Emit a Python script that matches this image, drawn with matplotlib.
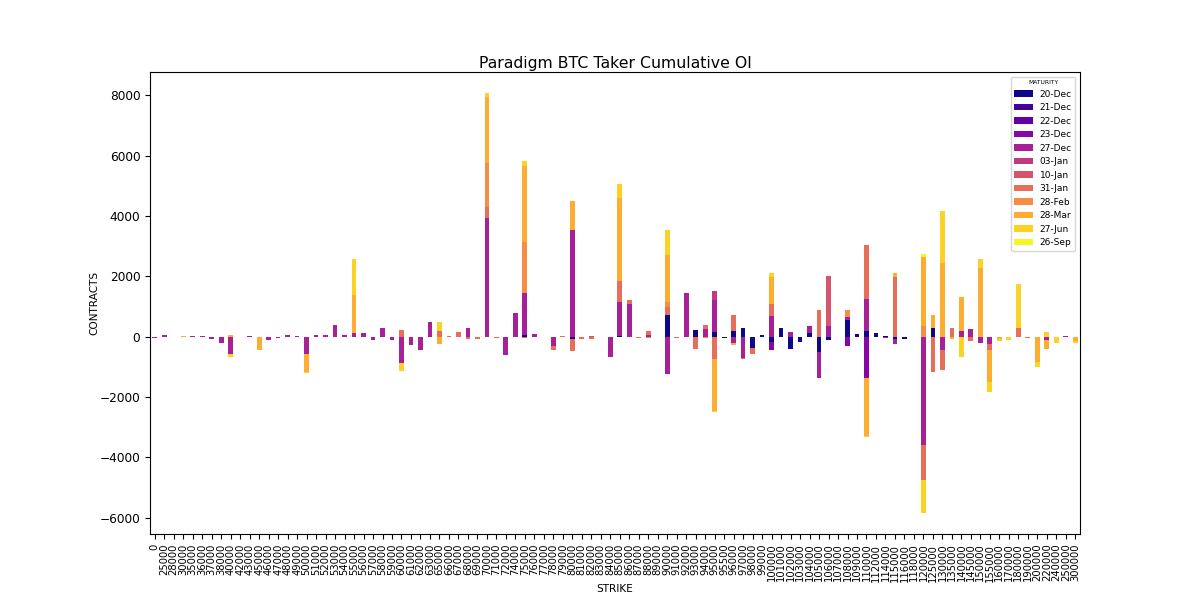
import numpy as np
import pandas as pd
import matplotlib
matplotlib.use("Agg")
import matplotlib.pyplot as plt

strikes = [0, 25000, 28000, 30000, 35000, 36000, 37000, 38000, 40000, 42000, 43000,
           45000, 46000, 47000, 48000, 49000, 50000, 51000, 52000, 53000, 54000,
           55000, 56000, 57000, 58000, 59000, 60000, 61000, 62000, 63000, 65000,
           66000, 67000, 68000, 69000, 70000, 71000, 72000, 74000, 75000, 76000,
           77000, 78000, 79000, 80000, 81000, 82000, 83000, 84000, 85000, 86000,
           87000, 88000, 89000, 90000, 91000, 92000, 93000, 94000, 95000, 95500,
           96000, 97000, 98000, 99000, 100000, 101000, 102000, 103000, 104000,
           105000, 106000, 107000, 108000, 109000, 110000, 112000, 114000, 115000,
           116000, 118000, 120000, 125000, 130000, 135000, 140000, 145000, 150000,
           155000, 160000, 170000, 180000, 190000, 200000, 220000, 240000, 250000,
           300000]

maturities = ["20-Dec", "21-Dec", "22-Dec", "23-Dec", "27-Dec", "03-Jan", "10-Jan",
              "31-Jan", "28-Feb", "28-Mar", "27-Jun", "26-Sep"]

# contracts per strike, one dict per maturity (strike -> value)
oi_20dec = {75000: 50, 80000: -90, 85000: 30, 90000: 730, 93000: 220, 95000: 140,
            95500: -40, 96000: 190, 97000: 270, 98000: -380, 99000: 60, 100000: -170,
            101000: 270, 102000: -420, 103000: -180, 104000: 120, 105000: -500,
            106000: -100, 108000: 560, 109000: 80, 110000: 200, 112000: 120,
            114000: 30, 115000: -80, 116000: -80, 125000: 300}
oi_21dec = {}
oi_22dec = {}
oi_23dec = {100000: -280, 110000: -1380, 108000: -320}
oi_27dec = {0: -60, 25000: 50, 28000: -20, 35000: 10, 36000: 10, 37000: -80,
            38000: -200, 40000: -580, 42000: -15, 43000: 10, 46000: -120, 47000: -30,
            48000: 40, 49000: 10, 50000: -560, 51000: 40, 52000: 70, 53000: 400,
            54000: 70, 55000: 120, 56000: 130, 57000: -110, 58000: 270, 59000: -100,
            60000: -890, 61000: -290, 62000: -440, 63000: 470, 68000: 290,
            70000: 3920, 72000: -600, 74000: 770, 75000: 1410, 76000: 80,
            78000: -320, 80000: 3550, 84000: -670, 85000: 1120, 86000: 1090,
            88000: 60, 90000: -1250, 92000: 1450, 94000: 250, 95000: 1060,
            96000: -200, 97000: -720, 100000: 670, 102000: 160, 104000: 230,
            105000: -870, 106000: 350, 108000: 100, 110000: 1050, 114000: -40,
            115000: -150, 120000: -3600, 130000: -450, 140000: 200, 145000: 240,
            150000: -200, 155000: -250, 220000: -120, 250000: 30}
oi_03jan = {95000: 300}
oi_10jan = {82000: 30, 106000: 1650}
oi_31jan = {60000: 230, 65000: 180, 66000: 30, 67000: 150, 68000: -90, 69000: -80,
            70000: 390, 71000: -30, 75000: -30, 77000: -20, 78000: -130, 79000: 15,
            80000: -400, 81000: -80, 82000: -90, 85000: 710, 86000: 130, 87000: -60,
            88000: 140, 89000: -20, 90000: 250, 91000: -60, 93000: -420, 94000: 130,
            95000: -745, 96000: 520, 97000: -30, 98000: -200, 100000: 400,
            105000: 880, 110000: 1800, 115000: 1980, 120000: -1150, 125000: -1180,
            130000: -650, 135000: 300, 145000: -160, 155000: -200, 180000: 300,
            190000: -60}
oi_28feb = {70000: 1450, 75000: 1665, 88000: -60, 90000: 160, 94000: -40,
            108000: 210, 120000: 350}
oi_28mar = {30000: 30, 40000: 60, 45000: -450, 50000: -600, 55000: 1260, 65000: -230,
            70000: 2190, 75000: 2520, 80000: 950, 85000: 2730, 90000: 1555,
            95000: -1710, 96000: -80, 100000: 910, 110000: -1900, 115000: 120,
            120000: 2300, 125000: 430, 130000: 2450, 135000: -80, 140000: 1120,
            150000: 2280, 155000: -1050, 160000: -80, 200000: -850, 220000: -300,
            300000: -150}
oi_27jun = {40000: -100, 50000: -60, 55000: 1180, 60000: -245, 65000: 300,
            70000: 130, 75000: 170, 85000: 470, 90000: 830, 95000: -60, 100000: 140,
            110000: -60, 120000: -1100, 130000: 1730, 140000: -690, 150000: 290,
            155000: -350, 160000: -60, 170000: -120, 180000: 1430, 200000: -150,
            220000: 150, 240000: -200, 300000: -70}
oi_26sep = {120000: 100}

series = [oi_20dec, oi_21dec, oi_22dec, oi_23dec, oi_27dec, oi_03jan, oi_10jan,
          oi_31jan, oi_28feb, oi_28mar, oi_27jun, oi_26sep]

df = pd.DataFrame({m: pd.Series(s, dtype=float) for m, s in zip(maturities, series)},
                  index=strikes).fillna(0)
df.index.name = "STRIKE"

fig, ax = plt.subplots(figsize=(12, 6), dpi=100)
df.plot(kind="bar", stacked=True, colormap="plasma", ax=ax)

# pandas does not widen the limits for the negative stacks, do it here
top = df.clip(lower=0).sum(axis=1).max()
bottom = df.clip(upper=0).sum(axis=1).min()
pad = 0.05 * (top - bottom)
ax.set_ylim(bottom - pad, top + pad)

ax.set_title("Paradigm BTC Taker Cumulative OI", fontsize=11.3, pad=3)
ax.set_xlabel("STRIKE", fontsize=7.6, labelpad=2)
ax.set_ylabel("CONTRACTS", fontsize=7.6, labelpad=0)
ax.tick_params(axis="x", labelsize=7.2, labelrotation=90)
ax.tick_params(axis="y", labelsize=8.7)
ax.legend(title="MATURITY", loc="upper right", fontsize=6.5, title_fontsize=4.3)
fig.savefig("out.png")
